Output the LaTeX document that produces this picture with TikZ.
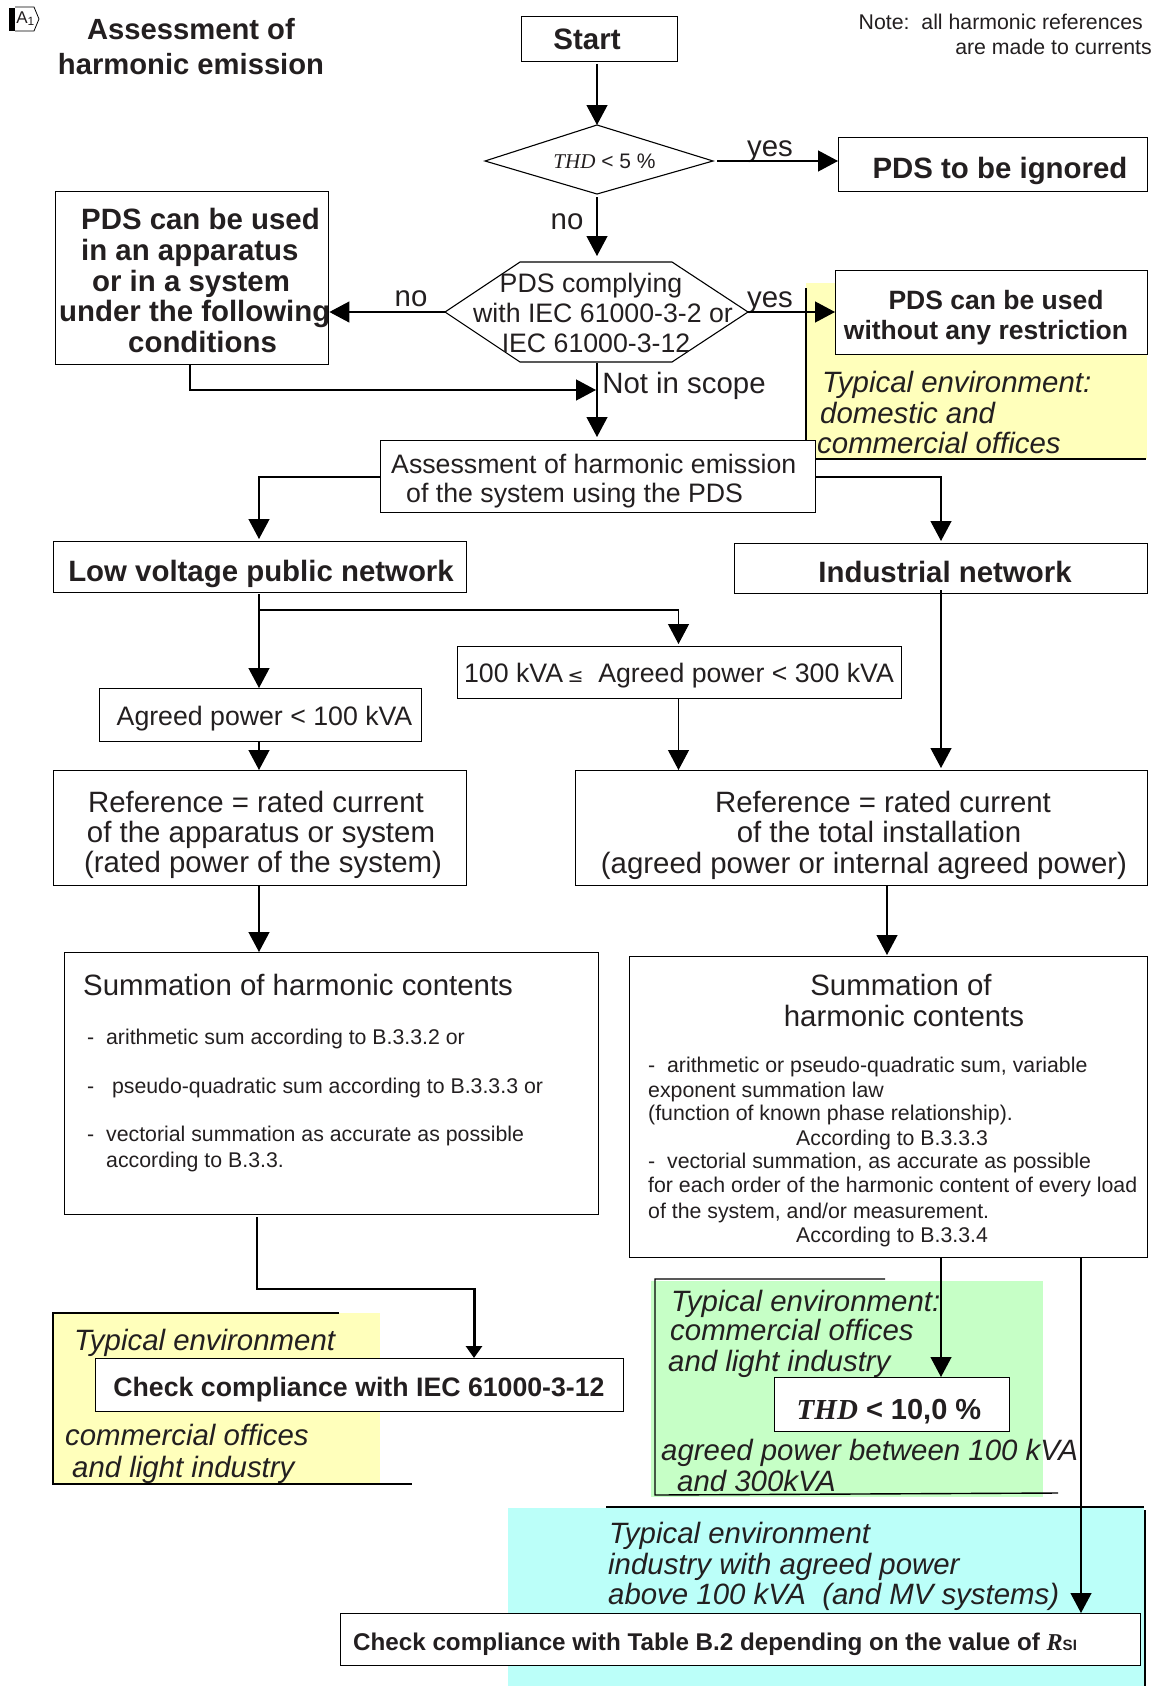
\documentclass[tikz,border=0pt]{standalone}
\usepackage{fontspec}
\setmainfont{Liberation Sans}
\usetikzlibrary{arrows.meta}
\definecolor{ink}{HTML}{231F20}
\definecolor{yel}{HTML}{FFFFBB}
\definecolor{grn}{HTML}{C6FFC6}
\definecolor{cya}{HTML}{BBFFF9}
\newcommand{\fs}[1]{\fontsize{#1}{#1}\selectfont}
\newcommand{\stt}{\rule[-.2em]{0pt}{1.12em}}
\tikzset{
  x=1pt,y=-1pt,
  box/.style={draw=black,line width=1.4pt,fill=white,inner sep=0pt,text=ink},
  txt/.style={inner sep=0pt,text=ink,anchor=west,execute at begin node=\stt},
  ctxt/.style={inner sep=0pt,text=ink,execute at begin node=\stt},
  rtxt/.style={inner sep=0pt,text=ink,anchor=east,execute at begin node=\stt},
  conn/.style={draw=black,line width=1.2pt},
  arr/.style={conn,-{Triangle[length=20pt,width=21pt]}},
  edge/.style={draw=black,line width=1.4pt},
  bt/.style={font=\bfseries\fs{29.4}},
  nt/.style={font=\fs{29.4}},
  mt/.style={font=\fs{26.7}},
  st/.style={font=\fs{21.3}},
  it/.style={font=\itshape\fs{29.4}},
}
\newcommand{\bx}[5]{\node[box,minimum width=#3-#1,minimum height=#4-#2,anchor=north west] (#5) at (#1,#2) {};}
\begin{document}
\begin{tikzpicture}
\useasboundingbox (0,0) rectangle (1157,1686);
\fill[white] (0,0) rectangle (1157,1686);
% colour panels
\fill[yel] (806,283) rectangle (1147,459);
\fill[yel] (53,1313) rectangle (380,1484);
\fill[grn] (651,1281) rectangle (1043,1497);
\fill[cya] (508,1508) rectangle (1144,1686);
\draw[edge] (806,288) -- (806,440);
\draw[edge] (815,459) -- (1146,459);
\draw[edge] (339,1313) -- (53,1313) -- (53,1484) -- (412,1484);
\draw[edge] (885,1279) -- (655,1279) -- (655,1495) -- (1058,1493);
\draw[edge] (606,1507) -- (1144,1507);
\draw[edge] (1145,1510) -- (1145,1686);
% A1 mark
\fill[black] (9,8) rectangle (15,31);
\draw[black,line width=0.8pt] (15,7) -- (34,7) -- (39,19) -- (34,31) -- (15,31);
\node[ctxt,font=\fs{17}] (mark) at (25.5,17) {A\textsubscript{1}};
% title and note
\node[ctxt,font=\bfseries\fs{29.2}] (title1) at (191,29) {Assessment of};
\node[ctxt,font=\bfseries\fs{29.2}] (title2) at (191,64) {harmonic emission};
\node[rtxt,st] (note1) at (1143,22) {Note:\ \ all harmonic references};
\node[rtxt,st] (note2) at (1152,47) {are made to currents};
% boxes
\bx{521}{16}{677}{61}{start}
\node[ctxt,font=\bfseries\fs{29.5}] at (587,39) {Start};
\draw[edge,line width=1.1pt] (485,161) -- (597,125) -- (713,161) -- (597,194) -- cycle;
\coordinate (dn) at (597,125); \coordinate (ds) at (597,197); \coordinate (de) at (717,161);
\node[ctxt,font=\fs{21}] (thd) at (604.5,161) {{\fontspec{Liberation Serif}\itshape THD}\ < 5 \%};
\bx{838}{137}{1147}{191}{ign}
\node[ctxt,bt] at (1000,168) {PDS to be ignored};
\bx{55}{191}{328}{364}{can}
\node[txt,bt] at (81,219) {PDS can be used};
\node[txt,bt] at (81,250) {in an apparatus};
\node[txt,bt] at (92,281) {or in a system};
\node[txt,bt] at (59,311) {under the following};
\node[txt,bt] at (128,342) {conditions};
\draw[edge,line width=1.1pt] (445,312) -- (520,262) -- (672,262) -- (748,312) -- (672,362) -- (520,362) -- cycle;
\coordinate (hw) at (445,312); \coordinate (he) at (748,312); \coordinate (hs) at (597,363);
\node[ctxt,mt] (hex1) at (591,283) {PDS complying};
\node[ctxt,mt] (hex2) at (603,313) {with IEC 61000-3-2 or};
\node[ctxt,mt] (hex3) at (596,343) {IEC 61000-3-12};
\bx{835}{270}{1147}{354}{free}
\node[ctxt,font=\bfseries\fs{26.5}] at (996,300) {PDS can be used};
\node[ctxt,font=\bfseries\fs{26.5}] at (986,330) {without any restriction};
\node[txt,it] at (822,382.5) {Typical environment:};
\node[txt,it] at (820,413) {domestic and};
\node[txt,it] at (817,442.5) {commercial offices};
\bx{380}{440}{815}{512}{ass}
\node[txt,mt] at (391,464) {Assessment of harmonic emission};
\node[txt,mt] at (406,493) {of the system using the PDS};
\bx{53}{541}{466}{592}{low}
\node[ctxt,bt] at (261,571) {Low voltage public network};
\bx{734}{543}{1147}{593}{ind}
\node[ctxt,bt] at (945,572) {Industrial network};
\bx{457}{645.5}{901}{698}{mid}
\node[ctxt,mt] at (679,673) {100 kVA\,{\fontspec{DejaVu Sans}\fs{19}≤}\ \ Agreed power < 300 kVA};
\bx{99}{687.5}{420.5}{741}{agr}
\node[ctxt,mt] at (264.5,716) {Agreed power < 100 kVA};
\bx{53}{770}{466}{885}{refl}
\node[ctxt,nt] at (256,802) {Reference = rated current};
\node[ctxt,nt] at (261,832) {of the apparatus or system};
\node[ctxt,nt] at (263,862) {(rated power of the system)};
\bx{575}{770}{1147}{885}{refr}
\node[ctxt,nt] at (883,802) {Reference = rated current};
\node[ctxt,nt] at (879,832) {of the total installation};
\node[ctxt,nt] at (864,863) {(agreed power or internal agreed power)};
\bx{63.5}{952}{598}{1214}{suml}
\node[txt,nt] at (83,985) {Summation of harmonic contents};
\node[txt,st] at (87,1037) {-\ \ arithmetic sum according to B.3.3.2 or};
\node[txt,st] at (87,1086) {-\ \ \ pseudo-quadratic sum according to B.3.3.3 or};
\node[txt,st] at (87,1134) {-\ \ vectorial summation as accurate as possible};
\node[txt,st] at (106,1160) {according to B.3.3.};
\bx{629}{956}{1147}{1257}{sumr}
\node[ctxt,nt] at (901,985) {Summation of};
\node[ctxt,nt] at (904,1016) {harmonic contents};
\node[txt,st] at (648,1065) {-\ \ arithmetic or pseudo-quadratic sum, variable};
\node[txt,st] at (648,1090) {exponent summation law};
\node[txt,st] at (648,1113) {(function of known phase relationship).};
\node[txt,st] at (796,1137.5) {According to B.3.3.3};
\node[txt,st] at (648,1161) {-\ \ vectorial summation, as accurate as possible};
\node[txt,st] at (648,1185) {for each order of the harmonic content of every load};
\node[txt,st] at (648,1211) {of the system, and/or measurement.};
\node[txt,st] at (796,1234.5) {According to B.3.3.4};
\bx{95}{1358}{623}{1411}{chk}
\node[ctxt,font=\bfseries\fs{26.7}] at (359,1387) {Check compliance with IEC 61000-3-12};
\node[txt,it] at (74,1340) {Typical environment};
\node[txt,it] at (65,1435) {commercial offices};
\node[txt,it] at (72,1467) {and light industry};
\node[txt,it] at (671,1301) {Typical environment:};
\node[txt,it] at (670,1330) {commercial offices};
\node[txt,it] at (668,1361) {and light industry};
\bx{774}{1377}{1009}{1431}{thdb}
\node[ctxt,font=\bfseries\fs{29}] at (889,1409) {{\fontspec{Liberation Serif}\bfseries\itshape THD}\ < 10,0 \%};
\node[txt,it] at (661,1450.5) {agreed power between 100 kVA};
\node[txt,it] at (677,1481) {and 300kVA};
\node[txt,it] at (609,1533) {Typical environment};
\node[txt,it] at (608,1564) {industry with agreed power};
\node[txt,it] at (608,1594) {above 100 kVA\ \ (and MV systems)};
\bx{340}{1613}{1140}{1665}{tab}
\node[txt,font=\bfseries\fs{24.2}] at (353,1642) {Check compliance with Table B.2 depending on the value of {\fontspec{Liberation Serif}\bfseries\itshape R}{\fs{15}SI}};
% edge labels
\node[ctxt,nt] (lyes1) at (770,146) {yes};
\node[ctxt,nt] (lno1) at (567,219) {no};
\node[ctxt,nt] (lno2) at (411,296) {no};
\node[ctxt,nt] (lyes2) at (770,297) {yes};
\node[ctxt,nt] (lnis) at (684,383) {Not in scope};
% connectors
\draw[arr] (597,64) -- (dn);
\draw[arr] (de) -- (ign.west |- de);
\draw[arr] (ds) -- (597,256);
\draw[arr] (hw) -- (can.east |- hw);
\draw[arr] (he) -- (free.west |- he);
\draw[arr] (hs) -- (597,437);
\draw[arr] (can.south -| 190,0) -- (190,390) -- (596,390);
\draw[arr] (ass.west |- 0,477) -- (259,477) -- (259,539);
\draw[arr] (ass.east |- 0,477) -- (941,477) -- (941,541);
\draw[arr] (259,594) -- (259,688);
\draw[arr] (259,610) -- (678.5,610) -- (678.5,644);
\draw[arr] (259,741) -- (259,770);
\draw[arr] (678.5,698) -- (678.5,770);
\draw[arr] (941,590) -- (941,768);
\draw[arr] (259,885) -- (259,952);
\draw[arr] (887,885) -- (887,955);
\draw[conn] (257,1217) -- (257,1289) -- (474,1289);
\draw[draw=black,line width=3pt,-{Triangle[length=12pt,width=16pt]}] (474,1288) -- (474,1358);
\draw[arr] (941,1258) -- (941,1377);
\draw[arr] (1081,1258) -- (1081,1613);
\end{tikzpicture}
\end{document}
